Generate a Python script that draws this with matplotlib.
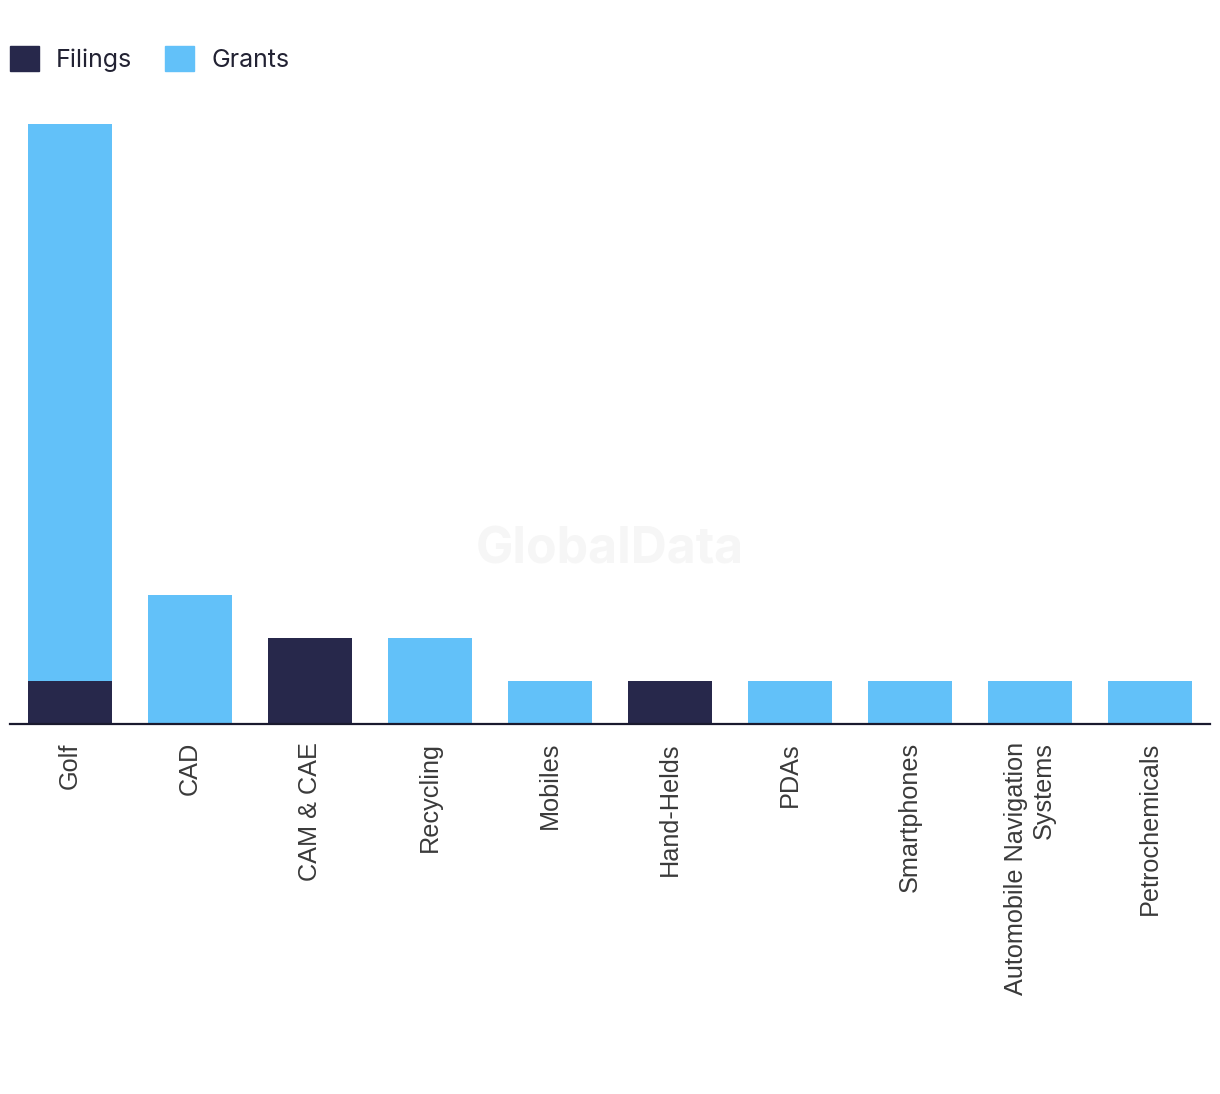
import matplotlib.pyplot as plt
from matplotlib.patches import Patch

# Дані
categories = ['Golf', 'CAD', 'CAM & CAE', 'Recycling', 'Mobiles', 'Hand-Helds',
              'PDAs', 'Smartphones', 'Automobile Navigation\nSystems', 'Petrochemicals']
filings = [1, 0, 2, 0, 0, 1, 0, 0, 0, 0]
grants = [13, 3, 0, 2, 1, 0, 1, 1, 1, 1]

navy = '#27284B'
blue = '#62C1F9'

fig = plt.figure(figsize=(12.2, 10.94), dpi=100)
ax = fig.add_axes([10 / 1220, (1094 - 724) / 1094, 1200 / 1220, (724 - 124) / 1094])

x = range(len(categories))
ax.bar(x, filings, width=0.7, color=navy, label='Filings', zorder=2)
ax.bar(x, grants, width=0.7, bottom=filings, color=blue, label='Grants', zorder=2)

ax.set_xlim(-0.5, len(categories) - 0.5)
ax.set_ylim(0, 14)
ax.set_yticks([])
for s in ['top', 'right', 'left']:
    ax.spines[s].set_visible(False)
ax.spines['bottom'].set_color('#1a1a2e')
ax.spines['bottom'].set_linewidth(1.6)
ax.spines['bottom'].set_zorder(3)

ax.set_xticks(list(x))
ax.set_xticklabels(categories, rotation=90, ha='center', va='top',
                   fontsize=18.2, color='#3a3a3a', family='Liberation Sans',
                   multialignment='right')
ax.tick_params(axis='x', length=0, pad=13)

# Водяний знак
fig.text(610 / 1220, 1 - 550 / 1094, 'GlobalData', ha='center', va='center',
         fontsize=36, fontweight='bold', color='#f6f6f6', family='Inter', zorder=0)

# Легенда
handles = [Patch(color=navy, label='Filings'), Patch(color=blue, label='Grants')]
fig.legend(handles=handles, loc='upper left', bbox_to_anchor=(0.0, 1 - 36 / 1094),
           ncol=2, frameon=False, handlelength=1.15, handleheight=1.15,
           handletextpad=0.7, columnspacing=1.3, borderaxespad=0, borderpad=0.4,
           prop={'family': 'Inter', 'size': 18}, labelcolor='#222233')

fig.savefig('out.png', dpi=100)
